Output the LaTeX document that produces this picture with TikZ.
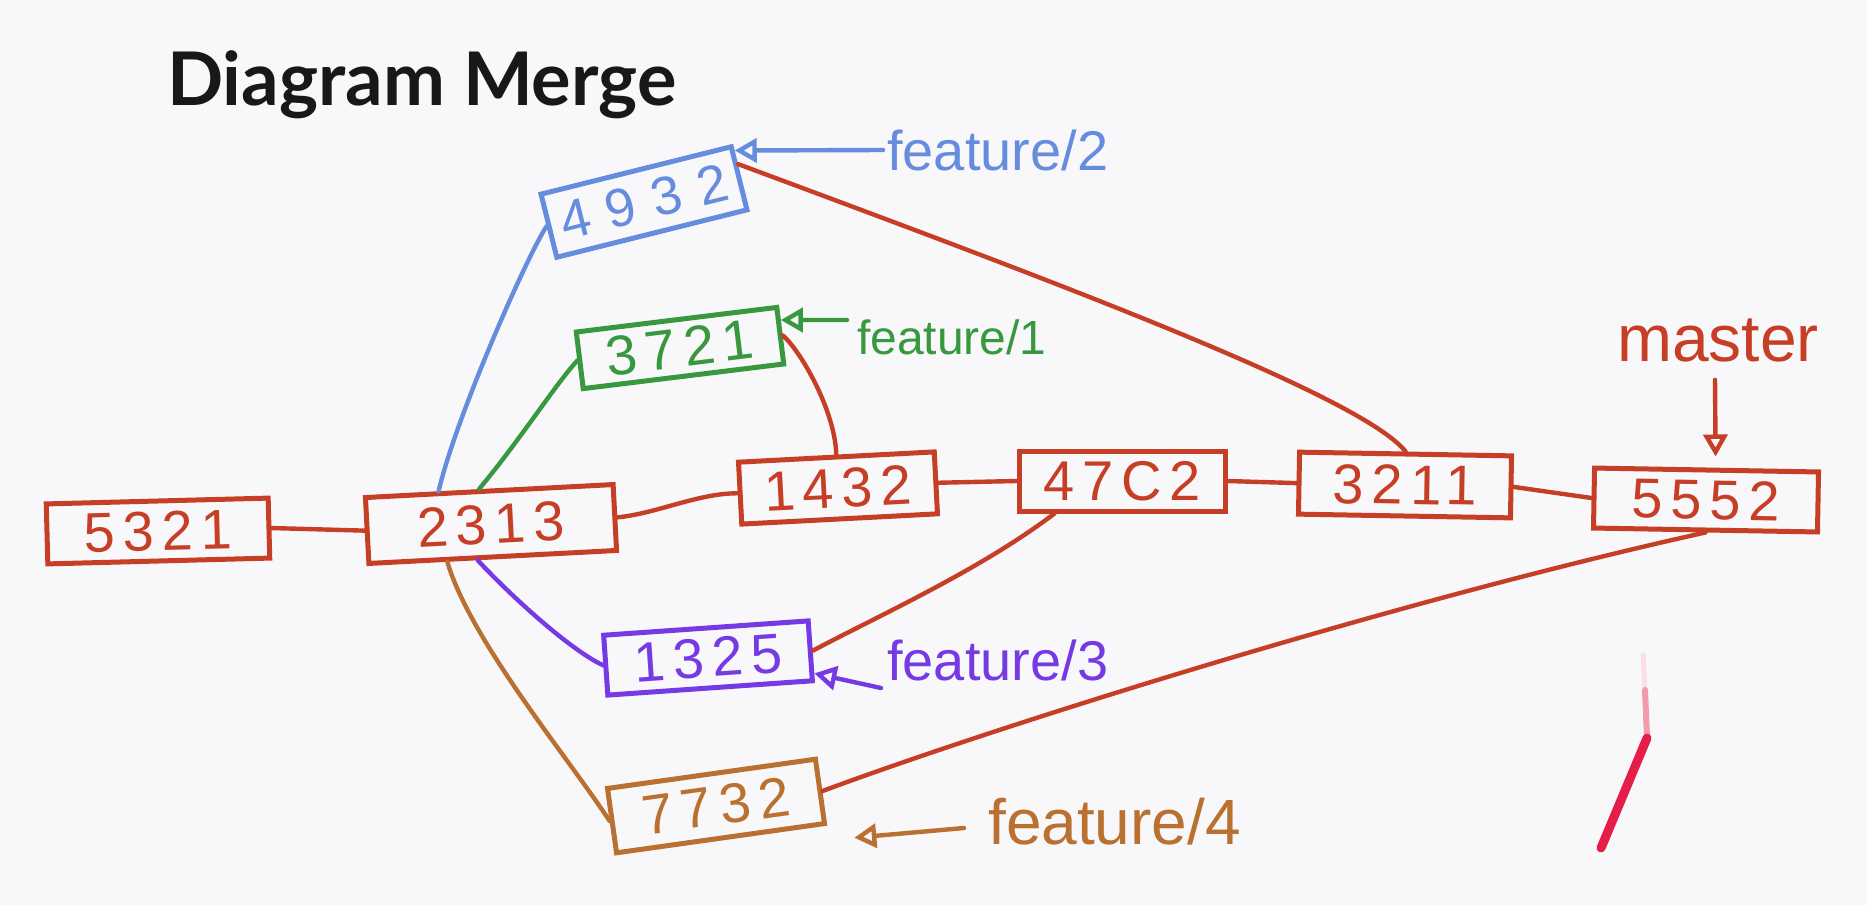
\documentclass[tikz,border=0pt]{standalone}
\usepackage{fontspec}
\setmainfont{Liberation Sans}
\newfontfamily\titlefont{Lato}
\newfontfamily\handfont[LetterSpace=14]{Liberation Sans}
\newfontfamily\widehandfont[LetterSpace=32]{Liberation Sans}
\usetikzlibrary{arrows.meta,calc}
\definecolor{cred}{RGB}{198,62,38}
\definecolor{cblue}{RGB}{102,140,222}
\definecolor{cgreen}{RGB}{55,152,62}
\definecolor{cpurple}{RGB}{118,58,228}
\definecolor{cbrown}{RGB}{186,112,48}
\definecolor{cbg}{RGB}{248,248,250}
\definecolor{cpink}{RGB}{228,30,72}
\definecolor{ctitle}{RGB}{24,24,24}
\begin{document}
\begin{tikzpicture}[x=1pt,y=1pt,
  commit/.style={draw=#1, line width=5pt, text=#1, inner sep=0pt,
    font=\handfont\fontsize{56}{56}\selectfont},
  link/.style={draw=#1, line width=4.4pt, line cap=round},
  branchlbl/.style={text=#1, inner sep=0pt, anchor=west},
  ptr/.style={draw=#1, line width=4.4pt, line cap=round,
    -{Triangle[open,length=22pt,width=24pt,line width=4.4pt]}}]
\useasboundingbox (0,0) rectangle (1867,-905);
\fill[cbg] (0,0) rectangle (1867,-905);

% title
\node[anchor=base west, text=ctitle, inner sep=0pt,
  font=\titlefont\bfseries\fontsize{74}{74}\selectfont] (title) at (167,-105) {Diagram Merge};

% commits on master
\node[commit=cred, minimum width=222pt, minimum height=60pt, rotate=1.5] (n5321) at (158,-531) {5321};
\node[commit=cred, minimum width=248pt, minimum height=66pt, rotate=3] (n2313) at (491,-524) {2313};
\node[commit=cred, minimum width=196pt, minimum height=62pt, rotate=3] (n1432) at (838,-488) {1432};
\node[commit=cred, minimum width=206pt, minimum height=60pt, rotate=0] (n4752) at (1122,-481) {47C2};
\node[commit=cred, minimum width=212pt, minimum height=62pt, rotate=-1] (n3211) at (1405,-485) {3211};
\node[commit=cred, minimum width=224pt, minimum height=60pt, rotate=-1] (n5552) at (1706,-500) {5552};

% feature commits
\node[commit=cblue, minimum width=196pt, minimum height=65pt, rotate=14,
  font=\widehandfont\fontsize{54}{54}\selectfont] (n4932) at (644,-202) {4932};
\node[commit=cgreen, minimum width=202pt, minimum height=57pt, rotate=7] (n3721) at (680,-348) {3721};
\node[commit=cpurple, minimum width=205pt, minimum height=60pt, rotate=4] (n1325) at (708,-658) {1325};
\node[commit=cbrown, minimum width=210pt, minimum height=65pt, rotate=8] (n7732) at (716,-806) {7732};

% branch labels
\node[branchlbl=cblue, font=\fontsize{56}{56}\selectfont] (lf2) at (887,-150) {feature/2};
\node[branchlbl=cgreen, font=\fontsize{48}{48}\selectfont] (lf1) at (857,-337) {feature/1};
\node[branchlbl=cred, font=\fontsize{66}{66}\selectfont, anchor=center] (lm) at (1718,-340) {master};
\node[branchlbl=cpurple, font=\fontsize{56}{56}\selectfont] (lf3) at (887,-660) {feature/3};
\node[branchlbl=cbrown, font=\fontsize{64}{64}\selectfont] (lf4) at (988,-822) {feature/4};

% master line
\draw[link=cred] (n5321.east) -- (n2313.west);
\draw[link=cred] (n2313.east) .. controls +(40,4) and +(-40,0) .. (n1432.west);
\draw[link=cred] (n1432.east) -- (n4752.west);
\draw[link=cred] (n4752.east) -- (n3211.west);
\draw[link=cred] (n3211.east) -- (n5552.west);

% merges into master
\draw[link=cred] ($(n4932.east)!0.4!(n4932.north east)$) .. controls (1050,-280) and (1360,-395) .. (n3211.north);
\draw[link=cred] (n1432.north) .. controls (835,-410) and (800,-350) .. (n3721.east);
\draw[link=cred] ($(n4752.south west)!0.18!(n4752.south east)$) .. controls (980,-570) and (880,-615) .. (n1325.east);
\draw[link=cred] (n5552.south) .. controls (1400,-600) and (1000,-725) .. (n7732.east);

% branches off 2313
\draw[link=cblue] ($(n2313.north west)!0.3!(n2313.north east)$) .. controls (455,-420) and (525,-260) .. (n4932.west);
\draw[link=cgreen] ($(n2313.north west)!0.46!(n2313.north east)$) .. controls (520,-440) and (555,-385) .. (n3721.west);
\draw[link=cpurple] ($(n2313.south west)!0.44!(n2313.south east)$) .. controls (510,-595) and (570,-650) .. (n1325.west);
\draw[link=cbrown] ($(n2313.south west)!0.32!(n2313.south east)$) .. controls (470,-640) and (570,-760) .. (n7732.west);

% branch pointers
\draw[ptr=cblue] ($(lf2.west)+(-4,0)$) -- ($(n4932.east)!0.8!(n4932.north east)$);
\draw[ptr=cgreen] ($(lf1.west)+(-10,17)$) -- ($(n3721.east)!0.5!(n3721.north east)$);
\draw[ptr=cred] ($(lm.south)+(-3,-18)$) -- ($(n5552.north)+(9,11)$);
\draw[ptr=cpurple] ($(lf3.west)+(-6,-28)$) -- ($(n1325.east)!0.7!(n1325.south east)$);
\draw[ptr=cbrown] ($(lf4.west)+(-24,-6)$) -- ($(n7732.south east)+(27,-12)$);

% stray pen stroke
\draw[cpink!15, line width=5pt, line cap=round] (1643,-655) -- (1645,-690);
\draw[cpink!45, line width=6pt, line cap=round] (1645,-690) -- (1647,-738);
\draw[cpink, line width=9pt, line cap=round] (1647,-738) -- (1601,-848);
\end{tikzpicture}
\end{document}
